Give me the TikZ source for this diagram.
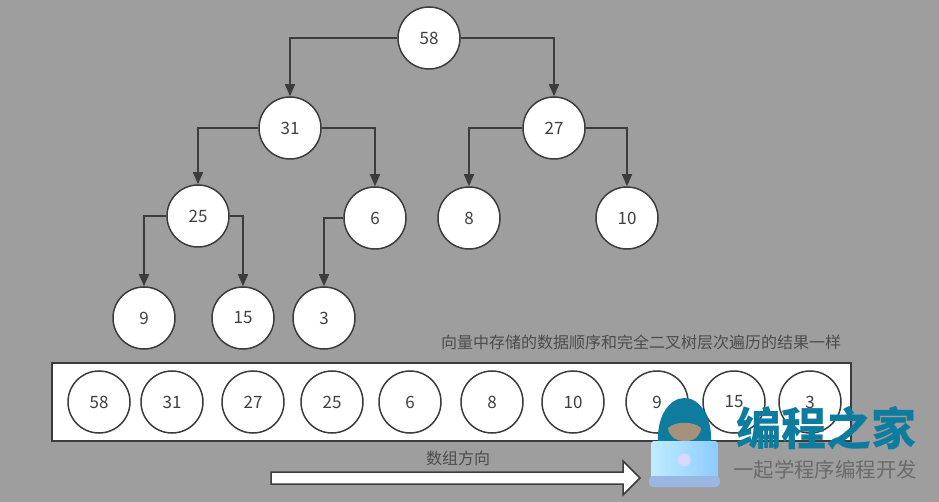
\documentclass[tikz,border=0pt]{standalone}
\usepackage{fontspec}
\setmainfont{Noto Sans CJK SC}
\usetikzlibrary{arrows.meta}
\definecolor{bggray}{HTML}{9E9E9E}
\definecolor{linegray}{HTML}{3C3C3C}
\definecolor{brandblue}{HTML}{0E7C9E}
\tikzset{
  treenode/.style={circle, draw=linegray, fill=white, line width=1.5pt, minimum size=62pt, inner sep=0pt, text=black!75, font=\fontsize{17}{20}\selectfont},
  edge/.style={draw=linegray, line width=1.5pt, -{Triangle[length=12pt,width=10pt]}},
  caption/.style={text=black!70, inner sep=0pt, font=\fontsize{16}{20}\selectfont}
}

\begin{document}
\begin{tikzpicture}[x=1pt, y=-1pt]
\fill[bggray] (0,0) rectangle (939,502);
\useasboundingbox (0,0) rectangle (939,502);

% tree
\node[treenode] (n58) at (429,38) {58};
\node[treenode] (n31) at (290,128) {31};
\node[treenode] (n27) at (554,128) {27};
\node[treenode] (n25) at (198,216) {25};
\node[treenode] (n6) at (375,218) {6};
\node[treenode] (n8) at (469,218) {8};
\node[treenode] (n10) at (627,218) {10};
\node[treenode] (n9) at (144,318) {9};
\node[treenode] (n15) at (243,318) {15};
\node[treenode] (n3) at (324,318) {3};

\draw[edge] (n58) -| (n31);
\draw[edge] (n58) -| (n27);
\draw[edge] (n31) -| (n25);
\draw[edge] (n31) -| (n6);
\draw[edge] (n27) -| (n8);
\draw[edge] (n27) -| (n10);
\draw[edge] (n25) -| (n9);
\draw[edge] (n25) -| (n15);
\draw[edge] (n6) -| (n3);

% vector
\node[caption] (vectext) at (641,342) {向量中存储的数据顺序和完全二叉树层次遍历的结果一样};
\node[draw=linegray, fill=white, line width=1.5pt, minimum width=799pt, minimum height=78pt, inner sep=0pt] (vecbox) at (451.5,402) {};
\foreach \val/\xpos [count=\i] in {58/99, 31/172, 27/253, 25/332, 6/410, 8/492, 10/573, 9/657, 15/734, 3/810}
  \node[treenode] (cell\i) at (\xpos,402) {\val};

% direction arrow
\node[caption] (dirtext) at (458,458) {数组方向};
\draw[draw=linegray, fill=white, line width=1.5pt] (271,472) -- (623,472) -- (623,461) -- (640,478) -- (623,495) -- (623,484) -- (271,484) -- cycle;

% logo
\fill[brandblue] (658,441) .. controls (657,415) and (670,398) .. (684.5,398) .. controls (699,398) and (712,415) .. (711,441) -- cycle;
\fill[black!5!brown!35!bggray] (668,428) .. controls (675,421) and (694,421) .. (701,428) .. controls (700,436) and (695,441) .. (685,441) .. controls (675,441) and (669,436) .. (668,428) -- cycle;
\shade[left color=blue!30!cyan!25!white, right color=cyan!55!blue!45!white, rounded corners=3pt] (651,441) rectangle (718,479);
\fill[cyan!50!blue!40!white, rounded corners=4pt] (649,476) rectangle (720,487);
\fill[white!85!blue] (684,460) circle (6.5);
\node[text=brandblue, inner sep=0pt, font=\fontsize{45}{50}\selectfont\bfseries] (logotitle) at (826,428) {编程之家};
\node[text=black!58, inner sep=0pt, font=\fontsize{20.4}{24}\selectfont] (logosub) at (825,470) {一起学程序编程开发};

\end{tikzpicture}
\end{document}
